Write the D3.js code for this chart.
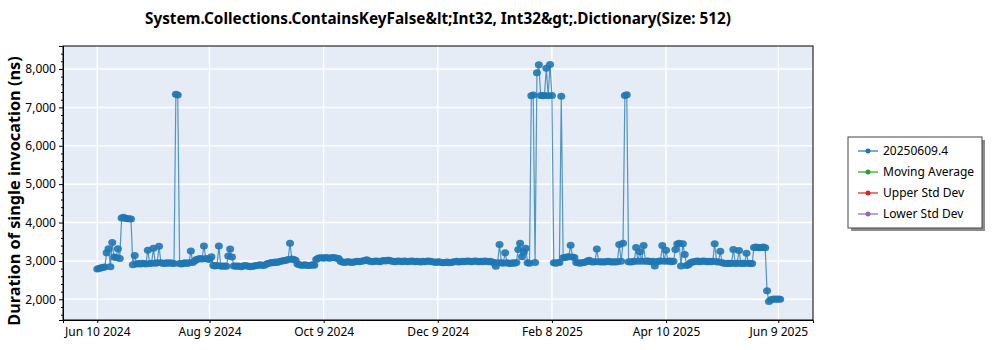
<!DOCTYPE html>
<html>
<head>
<meta charset="utf-8">
<script src="https://cdn.jsdelivr.net/npm/d3@7.9.0/dist/d3.min.js"></script>
<style>
  body { margin: 0; background: #fff; }
  svg text { font-family: "Noto Sans", "Open Sans", sans-serif; }
</style>
</head>
<body>
<svg id="chart" width="1000" height="350"></svg>
<script>
// Series start day; one value per day after that
const startDay = Date.UTC(2024, 5, 10);

// Duration of single invocation (ns), daily
const values = [
  2790, 2800, 2820, 2830, 2840, 3210, 3320, 2850, 3480, 3100,
  3090, 3320, 3060, 4120, 4140, 4110, 4100, 4100, 4090, 2900,
  3140, 2920, 2930, 2920, 2940, 2930, 2920, 3280, 2930, 2940,
  3330, 2940, 2950, 3380, 2950, 2940, 2930, 2950, 2940, 2950,
  2940, 2930, 7340, 7320, 2930, 2920, 2940, 2950, 2930, 2950,
  3260, 2960, 3000, 3040, 3050, 3060, 3050, 3390, 3060, 3050,
  3040, 3110, 2880, 2870, 2880, 3390, 2870, 2860, 2870, 2860,
  3130, 3310, 3100, 2870, 2860, 2870, 2860, 2850, 2870, 2880,
  2870, 2860, 2850, 2860, 2870, 2880, 2890, 2900, 2890, 2880,
  2910, 2930, 2940, 2960, 2950, 2970, 2960, 2980, 2990, 3000,
  3010, 3020, 3040, 3460, 3050, 3040, 3020, 2920, 2900, 2890,
  2890, 2900, 2890, 2880, 2890, 2900, 2890, 3040, 3070, 3080,
  3080, 3070, 3090, 3080, 3070, 3080, 3090, 3080, 3070, 3060,
  2990, 2970, 2960, 2970, 2980, 2970, 2960, 2970, 2980, 2990,
  2980, 2990, 3000, 3010, 3030, 3000, 2990, 2980, 2990, 3000,
  2990, 2980, 3000, 3010, 3000, 3020, 3020, 3000, 2990, 2980,
  2990, 3000, 2990, 2980, 3000, 2990, 2980, 2990, 3000, 2990,
  2980, 2990, 2980, 2970, 2990, 2980, 2990, 3000, 2990, 2980,
  2970, 2960, 2980, 2970, 2960, 2950, 2960, 2970, 2950, 2960,
  2970, 2980, 2990, 2970, 2980, 2990, 2980, 2990, 3000, 2990,
  2980, 2990, 3000, 2990, 2980, 2990, 2980, 3000, 2990, 2980,
  2990, 2970, 2960, 2860, 2950, 3430, 2950, 2940, 3210, 2950,
  2940, 2930, 2950, 2940, 2960, 3300, 3460, 3110, 3230, 3330,
  2950, 2940, 7300, 7320, 2960, 7900, 8110, 7310, 7300, 7310,
  8020, 7300, 8120, 7310, 2950, 2940, 2950, 2960, 7290, 3080,
  3090, 3100, 3110, 3410, 3100, 3090, 2960, 2950, 2940, 2950,
  2960, 2970, 3000, 3020, 2980, 2970, 2980, 3310, 2980, 2970,
  2980, 2970, 2980, 2990, 2980, 2970, 2980, 2970, 2980, 3430,
  2990, 3460, 7310, 7330, 2980, 2970, 2980, 2990, 3350, 2990,
  3240, 2990, 3400, 2990, 3000, 2990, 2980, 2990, 2870, 2980,
  2990, 3000, 3400, 2990, 3280, 2990, 3000, 2980, 2990, 3300,
  3440, 3460, 2870, 3450, 3170, 2880, 2900, 2950, 2970, 2980,
  2990, 3000, 2980, 2990, 3000, 2990, 2980, 2990, 2980, 2990,
  3450, 2980, 2970, 3250, 2950, 2940, 2930, 2940, 2930, 2940,
  3300, 2930, 2940, 3270, 2930, 2940, 2930, 3200, 2940, 2930,
  2930, 3350, 3360, 3350, 3340, 3350, 3360, 3340, 2220, 1940,
  1990, 2000, 2010, 2000, 2010, 2000
];

const xTickDates = ["2024-06-10", "2024-08-09", "2024-10-09", "2024-12-09",
                    "2025-02-08", "2025-04-10", "2025-06-09"];
const yTicks = [2000, 3000, 4000, 5000, 6000, 7000, 8000];

const legendNames = ["20250609.4", "Moving Average", "Upper Std Dev", "Lower Std Dev"];
const legendColors = ["#1f77b4", "#2ca02c", "#d62728", "#9467bd"];

const title = "System.Collections.ContainsKeyFalse&lt;Int32, Int32&gt;.Dictionary(Size: 512)";

// Set up dimensions
const margin = { top: 46, left: 63 },
      width = 750,
      height = 274;

const DAY = 864e5;
const data = values.map((v, i) => ({ date: new Date(startDay + i * DAY), value: v }));

const svgContainer = d3.select("#chart");

const x = d3.scaleUtc()
    .domain([new Date(startDay - 18.33 * DAY), new Date(startDay + 382.55 * DAY)])
    .range([0, width]);

const y = d3.scaleLinear()
    .domain([1461, 8599])
    .range([height, 0]);

const tickDates = xTickDates.map(s => new Date(s + "T00:00:00Z"));

// Title
svgContainer.append("text")
    .attr("x", margin.left + width / 2)
    .attr("y", 24)
    .attr("text-anchor", "middle")
    .style("font-size", "15.3px")
    .style("font-weight", "bold")
    .text(title);

// Y-axis label
svgContainer.append("text")
    .attr("transform", "rotate(-90)")
    .attr("x", -191)
    .attr("y", 20)
    .attr("text-anchor", "middle")
    .style("font-size", "16.3px")
    .style("font-weight", "bold")
    .text("Duration of single invocation (ns)");

const svg = svgContainer.append("g")
    .attr("transform", `translate(${margin.left},${margin.top})`);

// Plot background
svg.append("rect")
    .attr("width", width)
    .attr("height", height)
    .attr("fill", "#e5ecf6");

// Grid lines
svg.append("g")
    .selectAll("line")
    .data(yTicks)
    .enter()
    .append("line")
    .attr("x1", 0)
    .attr("x2", width)
    .attr("y1", d => y(d))
    .attr("y2", d => y(d))
    .attr("stroke", "#fff")
    .attr("stroke-width", 1.5);

svg.append("g")
    .selectAll("line")
    .data(tickDates)
    .enter()
    .append("line")
    .attr("x1", d => x(d))
    .attr("x2", d => x(d))
    .attr("y1", 0)
    .attr("y2", height)
    .attr("stroke", "#fff")
    .attr("stroke-width", 1.5);

// Series line
svg.append("path")
    .datum(data)
    .attr("fill", "none")
    .attr("stroke", "#1f77b4")
    .attr("stroke-width", 1.2)
    .attr("stroke-opacity", 0.75)
    .attr("d", d3.line().x(d => x(d.date)).y(d => y(d.value)));

// Series points
svg.append("g")
    .selectAll("ellipse")
    .data(data)
    .enter()
    .append("ellipse")
    .attr("cx", d => x(d.date))
    .attr("cy", d => y(d.value))
    .attr("rx", 4)
    .attr("ry", 3.5)
    .attr("fill", "#1f77b4")
    .attr("fill-opacity", 0.9);

// Frame
svg.append("rect")
    .attr("width", width)
    .attr("height", height)
    .attr("fill", "none")
    .attr("stroke", "#000")
    .attr("stroke-width", 1);

// Y-axis with minor ticks
const minorTicks = d3.range(1600, 8600, 200).filter(v => v % 1000 !== 0);
svg.append("g")
    .call(d3.axisLeft(y).tickValues(minorTicks).tickSize(2).tickFormat(""))
    .call(g => g.select(".domain").remove());

svg.append("g")
    .call(d3.axisLeft(y).tickValues(yTicks).tickSize(4).tickPadding(3).tickFormat(d3.format(",")))
    .call(g => g.select(".domain").attr("stroke", "#000"))
    .call(g => g.selectAll("text").style("font-size", "12px").attr("fill", "#000"));

// X-axis
svg.append("g")
    .attr("transform", `translate(0,${height})`)
    .call(d3.axisBottom(x).tickValues(tickDates).tickSize(3).tickPadding(4)
        .tickFormat(d3.utcFormat("%b %-d %Y")))
    .call(g => g.selectAll("text").style("font-size", "12px").attr("fill", "#000"));

// Legend
const legend = svgContainer.append("g")
    .attr("transform", "translate(848,137)");

legend.append("rect")
    .attr("x", 3)
    .attr("y", 3)
    .attr("width", 134)
    .attr("height", 91)
    .attr("fill", "#8c8c8c");

legend.append("rect")
    .attr("width", 134)
    .attr("height", 91)
    .attr("fill", "#fff")
    .attr("stroke", "#444")
    .attr("stroke-width", 1);

const rows = legend.selectAll("g.row")
    .data(legendNames)
    .enter()
    .append("g")
    .attr("class", "row")
    .attr("transform", (d, i) => `translate(0,${14 + i * 21})`);

rows.append("line")
    .attr("x1", 10)
    .attr("x2", 30)
    .attr("stroke", (d, i) => legendColors[i])
    .attr("stroke-width", 1.2);

rows.append("circle")
    .attr("cx", 20)
    .attr("r", 2.5)
    .attr("fill", (d, i) => legendColors[i]);

rows.append("text")
    .attr("x", 35)
    .attr("y", 4)
    .style("font-size", "12px")
    .text(d => d);
</script>
</body>
</html>
